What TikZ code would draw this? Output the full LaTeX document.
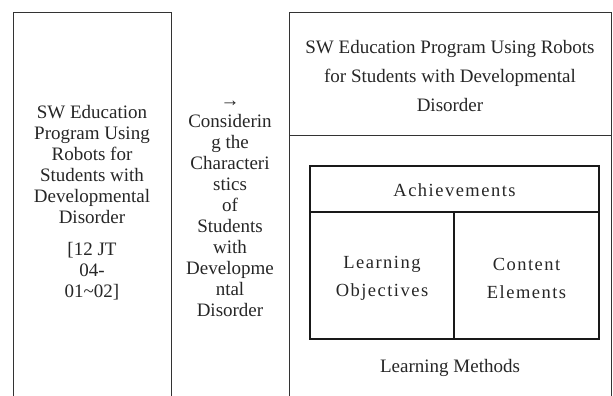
\documentclass[tikz,border=0pt]{standalone}
\usepackage{fontspec}
\setmainfont{Liberation Serif}
\usetikzlibrary{positioning}

\begin{document}
\begin{tikzpicture}[%
  x=1pt, y=-1pt,
  frame/.style={draw=black!80, line width=0.9pt},
  inner/.style={draw=black!90, line width=1.3pt},
  txt/.style={text=black!85, align=center, inner sep=0pt,
    font=\fontsize{19}{21}\selectfont},
  wide/.style={txt, font=\fontsize{18.5}{28}\selectfont\addfontfeature{LetterSpace=8}},
  toptxt/.style={txt, font=\fontsize{19}{29}\selectfont}]
\useasboundingbox (0,0) rectangle (613,396);
% columns, open at the bottom
\coordinate (lb) at (13,396);
\coordinate (rb) at (171,396);
\coordinate (pb) at (289,396);
\coordinate (qb) at (611,396);
\draw[frame] (lb) |- (171,12) -- (rb);
\draw[frame] (pb) |- (611,12) -- (qb);
\draw[frame] (289,135) -- (611,135);
% inner table
\draw[inner] (310,166) rectangle (599,339);
\draw[inner] (310,212) -- (599,212);
\draw[inner] (454,212) -- (454,339);
% texts
\node[txt] (program) at (92,203)
  {SW Education\\Program Using\\Robots for\\Students with\\Developmental\\Disorder\\[11pt]
   [12 JT\\04-\\01\textasciitilde02]};
\node[txt] (consider) at (230,209)
  {→\\Considerin\\g the\\Characteri\\stics\\of\\Students\\with\\Developme\\ntal\\Disorder};
\node[toptxt] (title) at (450,76)
  {SW Education Program Using Robots\\for Students with Developmental\\Disorder};
\node[wide] (achieve) at (454.5,190) {Achievements};
\node[wide] (objective) at (382,278) {Learning\\Objectives};
\node[wide] (content) at (526.5,278) {Content\\Elements};
\node[txt] (methods) at (450,368) {Learning Methods};
\end{tikzpicture}
\end{document}
